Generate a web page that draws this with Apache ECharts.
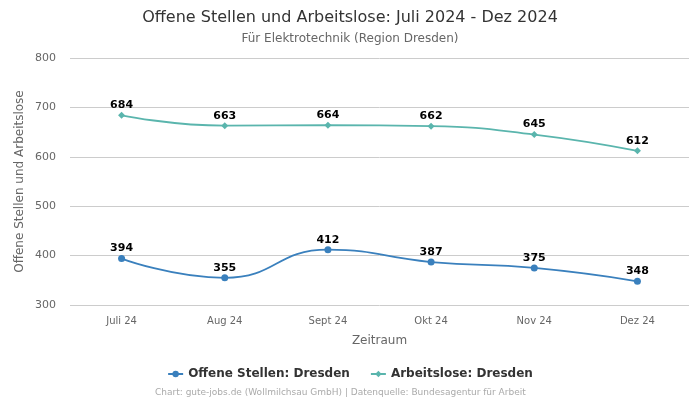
<!DOCTYPE html>
<html><head><meta charset="utf-8">
<script src="https://cdn.jsdelivr.net/npm/echarts@6/dist/echarts.min.js"></script>
<style>html,body{margin:0;padding:0;background:#fff}#c{width:700px;height:400px}</style>
</head><body><div id="c"></div>
<script>
const categories = ["Juli 24","Aug 24","Sept 24","Okt 24","Nov 24","Dez 24"];
const offeneStellen = [394,355,412,387,375,348];
const arbeitslose = [684,663,664,662,645,612];
const yTicks = {min:300,max:800,interval:100};

const F = 'DejaVu Sans';
const chart = echarts.init(document.getElementById('c'));
chart.setOption({
  animation:false,
  title:{
    text:"Offene Stellen und Arbeitslose: Juli 2024 - Dez 2024",
    subtext:"Für Elektrotechnik (Region Dresden)",
    left:'center', top:5,
    textStyle:{fontSize:16,fontWeight:'normal',color:'#333',fontFamily:F},
    subtextStyle:{fontSize:12,color:'#666',fontFamily:F},
    itemGap:7
  },
  graphic:[{type:'text',left:155,top:388,style:{text:"Chart: gute-jobs.de (Wollmilchsau GmbH) | Datenquelle: Bundesagentur für Arbeit",fill:'#aaa',fontSize:9,fontFamily:F}}],
  legend:{
    bottom:15, left:'center', itemGap:20, itemWidth:15, itemHeight:8,
    textStyle:{fontSize:12,fontWeight:'bold',color:'#333',fontFamily:F},
    data:["Offene Stellen: Dresden","Arbeitslose: Dresden"]
  },
  grid:{left:70,right:11,top:58,bottom:95},
  xAxis:{
    type:'category', data:categories, boundaryGap:true,
    name:'Zeitraum', nameLocation:'middle', nameGap:30,
    nameTextStyle:{fontSize:12,color:'#666',fontFamily:F},
    axisLine:{show:false}, axisTick:{show:false},
    axisLabel:{fontSize:10,color:'#666',margin:11,fontFamily:F}
  },
  yAxis:{
    type:'value', min:yTicks.min, max:yTicks.max, interval:yTicks.interval,
    name:'Offene Stellen und Arbeitslose', nameLocation:'middle', nameGap:44,
    nameMoveOverlap:false,
    nameTextStyle:{fontSize:12,color:'#666',fontFamily:F},
    axisLabel:{fontSize:11,color:'#666',margin:14,fontFamily:F},
    splitLine:{lineStyle:{color:'#ccc'}}
  },
  series:[
    {name:"Offene Stellen: Dresden",type:'line',smooth:true,data:offeneStellen,
     symbol:'circle',symbolSize:7,color:'#3a80bd',lineStyle:{width:1.8},
     label:{show:true,position:'top',distance:1,fontWeight:'bold',fontSize:11,color:'#000',fontFamily:F}},
    {name:"Arbeitslose: Dresden",type:'line',smooth:true,data:arbeitslose,
     symbol:'diamond',symbolSize:7,color:'#5ab5ad',lineStyle:{width:1.8},
     label:{show:true,position:'top',distance:1,fontWeight:'bold',fontSize:11,color:'#000',fontFamily:F}}
  ]
});
</script></body></html>
